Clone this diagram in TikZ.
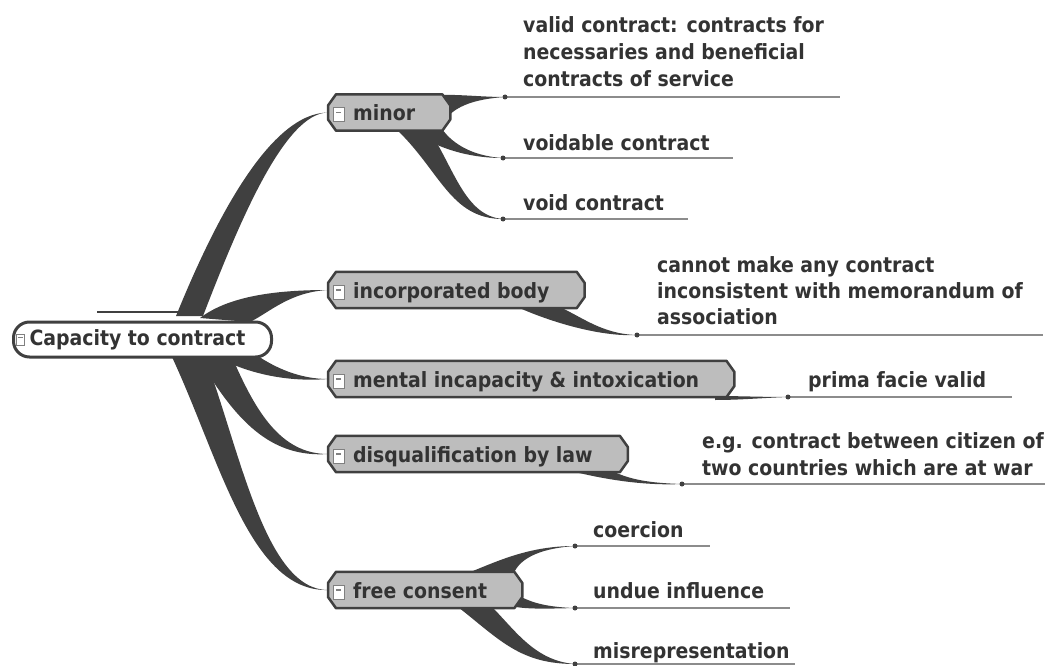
\documentclass[tikz,border=0pt]{standalone}
\usepackage{fontspec}
\setmainfont{DejaVu Sans Condensed}[BoldFont={DejaVu Sans Condensed Bold}]
\usetikzlibrary{calc}
\pgfdeclarelayer{bg}
\pgfsetlayers{bg,main}
\definecolor{dk}{HTML}{404040}
\definecolor{nodefill}{HTML}{BDBDBD}
\definecolor{txt}{HTML}{333333}
\definecolor{ul}{HTML}{8C8C8C}
\definecolor{mkc}{HTML}{808080}
\newcommand\br[7]{\fill[dk] (#1) .. controls (#2) and (#3) .. (#4) .. controls (#5) and (#6) .. (#7) -- cycle;}
\newcommand\hexb[1]{\filldraw[hexs] ($(#1.north west)+(8,0)$) -- ($(#1.north east)+(-8,0)$) -- ($(#1.east)+(0,-7)$) -- ($(#1.east)+(0,7)$) -- ($(#1.south east)+(-8,0)$) -- ($(#1.south west)+(8,0)$) -- ($(#1.west)+(0,7)$) -- ($(#1.west)+(0,-7)$) -- cycle;}
\newcommand\mkdash{{\color{mkc}\rule[4pt]{5pt}{1.6pt}}}
\begin{document}
\begin{tikzpicture}[x=1pt,y=-1pt,
  every node/.style={font=\fontsize{21}{27}\selectfont\bfseries, text=txt, inner sep=0pt},
  topic/.style={anchor=west, inner xsep=25pt, inner ysep=6pt, text height=20pt, text depth=4pt, execute at end node={\kern10pt}},
  rootn/.style={anchor=west, draw=dk, line width=3pt, fill=white, rounded corners=16pt, inner xsep=16pt, inner ysep=7pt, text height=16pt, text depth=5pt, execute at end node={\kern10pt}},
  hexs/.style={draw=dk, line width=2.5pt, fill=nodefill, line join=round},
  leaf/.style={align=left},
  mk/.style={draw=mkc, fill=white, line width=0.8pt, minimum width=11pt, minimum height=14pt},
  mks/.style={draw=mkc, fill=white, line width=0.8pt, minimum width=8pt, minimum height=11pt},
  uline/.style={draw=ul, line width=2pt},
  tip/.style={fill=dk}
]
\useasboundingbox (0,0) rectangle (1057,666);

% root and topics
\node[rootn] (root) at (12,339.5) {Capacity to contract};
\node[topic] (minor) at (328,112.5) {minor};
\node[topic] (incorp) at (328,290) {incorporated body};
\node[topic] (mental) at (328,379) {mental incapacity \& intoxication};
\node[topic] (disq) at (328,454) {disqualification by law};
\node[topic] (free) at (328,590) {free consent};

% collapse markers
\node[mks] (m0) at ($(root.west)+(8,0)$) {\mkdash};
\node[mk] (m1) at ($(minor.west)+(10.5,2)$) {\mkdash};
\node[mk] (m2) at ($(incorp.west)+(10.5,2)$) {\mkdash};
\node[mk] (m3) at ($(mental.west)+(10.5,2)$) {\mkdash};
\node[mk] (m4) at ($(disq.west)+(10.5,2)$) {\mkdash};
\node[mk] (m5) at ($(free.west)+(10.5,2)$) {\mkdash};

% leaves
\node[leaf, anchor=north west] (l1) at (523,16) {valid contract: contracts for\\necessaries and beneficial\\contracts of service};
\node[leaf, anchor=base west] (l2) at (523,150) {voidable contract};
\node[leaf, anchor=base west] (l3) at (523,210) {void contract};
\node[leaf, anchor=north west] (l4) at (657,256) {cannot make any contract\\[-1pt]inconsistent with memorandum of\\[-1pt]association};
\node[leaf, anchor=base west] (l5) at (808,387) {prima facie valid};
\node[leaf, anchor=north west] (l6) at (702,432) {e.g. contract between citizen of\\two countries which are at war};
\node[leaf, anchor=base west] (l7) at (593,537) {coercion};
\node[leaf, anchor=base west] (l8) at (593,598) {undue influence};
\node[leaf, anchor=base west] (l9) at (593,658) {misrepresentation};

% tips and underline ends
\coordinate (t1) at (505,97);  \coordinate (u1) at (840,97);
\coordinate (t2) at (503,158); \coordinate (u2) at (733,158);
\coordinate (t3) at (503,219); \coordinate (u3) at (688,219);
\coordinate (t4) at (637,335); \coordinate (u4) at (1043,335);
\coordinate (t5) at (788,397); \coordinate (u5) at (1012,397);
\coordinate (t6) at (682,484); \coordinate (u6) at (1045,484);
\coordinate (t7) at (575,546); \coordinate (u7) at (710,546);
\coordinate (t8) at (575,608); \coordinate (u8) at (790,608);
\coordinate (t9) at (575,664); \coordinate (u9) at (795,664);

\foreach \i in {1,...,9}{
  \draw[uline] (t\i) -- (u\i);
  \fill[tip] (t\i) circle (2.5);
}

\begin{pgfonlayer}{bg}
  % root branches
  \br{176,316}{215,220}{270,113}{minor.west}{285,113}{240,220}{203,316}
  \br{200,318}{230,295}{280,290}{incorp.west}{290,292}{270,312}{250,322}
  \br{255,354}{275,368}{300,379}{mental.west}{290,382}{250,375}{215,356}
  \br{232,357}{255,410}{280,454}{disq.west}{270,458}{235,420}{198,357}
  \br{205,357}{240,450}{265,590}{free.west}{250,592}{220,460}{172,357}
  \draw[dk, line width=2pt] (97,312) -- (183,312);
  % child branches
  \br{430,95}{460,94}{480,97}{t1}{475,99}{455,106}{445,120}
  \br{405,128}{425,140}{455,158}{t2}{470,156}{450,142}{440,126}
  \br{395,128}{440,170}{450,219}{t3}{465,216}{455,170}{428,128}
  \br{555,305}{580,315}{600,334}{t4}{600,337}{550,322}{515,306}
  \br{715,396}{740,396}{760,397}{t5}{760,398}{740,400}{715,400}
  \br{610,470}{630,480}{650,483}{t6}{640,486}{600,478}{575,472}
  \br{468,573}{500,560}{530,546}{t7}{545,548}{520,556}{513,575}
  \br{513,592}{525,600}{540,607}{t8}{540,609}{525,609}{510,606}
  \br{458,607}{500,640}{520,664}{t9}{535,661}{515,630}{492,607}
  % topic shapes
  \hexb{minor}
  \hexb{incorp}
  \hexb{mental}
  \hexb{disq}
  \hexb{free}
\end{pgfonlayer}
\end{tikzpicture}
\end{document}
